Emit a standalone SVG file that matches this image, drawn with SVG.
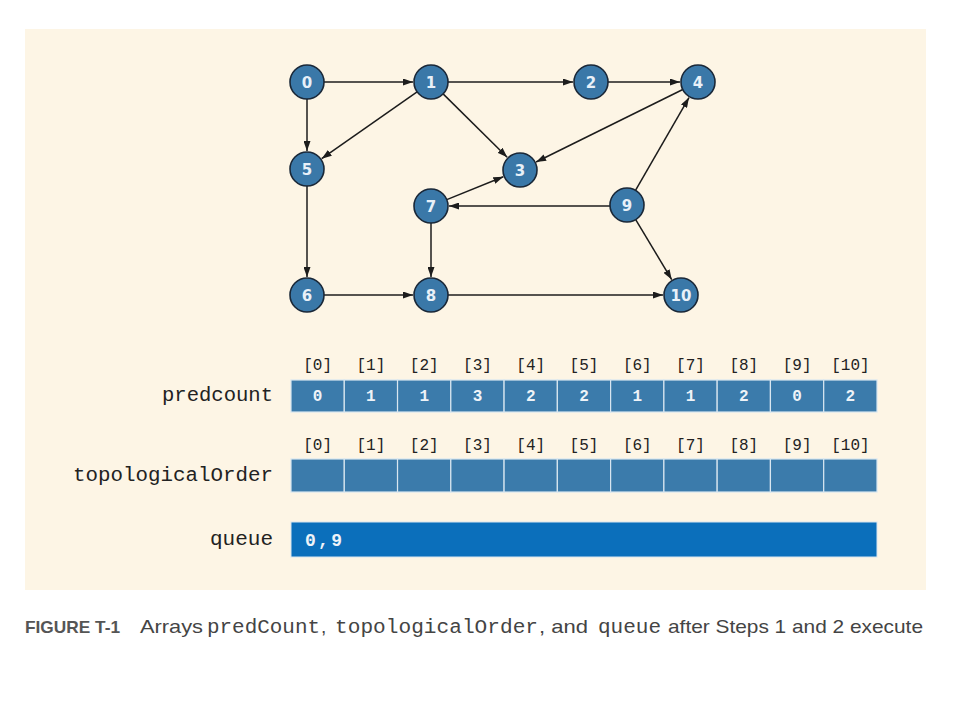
<svg xmlns="http://www.w3.org/2000/svg" width="960" height="720" viewBox="0 0 960 720">
<defs>
<style>
.node circle{fill:#3a78a8;stroke:#1a2838;stroke-width:1.6}
.node text{font-family:"DejaVu Sans",sans-serif;font-weight:bold;font-size:15px;fill:#e8f0f8;text-anchor:middle}
.edges line{stroke:#1c1c1c;stroke-width:1.5;marker-end:url(#ah)}
.cell{fill:#3b7bab;stroke:#d8e6f0;stroke-width:1.2}
.idx{font-family:"Liberation Mono",monospace;font-size:16px;fill:#222;text-anchor:middle}
.val{font-family:"Liberation Mono",monospace;font-weight:bold;font-size:16px;fill:#eef3f8;text-anchor:middle}
.lbl{font-family:"Liberation Mono",monospace;font-size:20px;fill:#222;text-anchor:end}
.cap{font-family:"Liberation Sans",sans-serif;font-size:19px;fill:#444}
.capm{font-family:"Liberation Mono",monospace;font-size:20px;fill:#444}
</style>
<marker id="ah" viewBox="0 0 10 7" refX="10" refY="3.5" markerWidth="10" markerHeight="7" markerUnits="userSpaceOnUse" orient="auto">
<path d="M0,0 L10,3.5 L0,7 z" fill="#1c1c1c"/>
</marker>
</defs>
<rect x="0" y="0" width="960" height="720" fill="#ffffff"/>
<rect x="25" y="29" width="901" height="561" fill="#fdf5e5"/>

<g class="edges" id="edges">
<line x1="324" y1="82" x2="413" y2="82"/>
<line x1="307" y1="99" x2="307" y2="151"/>
<line x1="448" y1="82" x2="573" y2="82"/>
<line x1="608" y1="82" x2="680" y2="82"/>
<line x1="443.1" y1="93.9" x2="507.2" y2="157.3"/>
<line x1="417.1" y1="91.8" x2="321.7" y2="158.7"/>
<line x1="682.8" y1="89.5" x2="536.1" y2="162"/>
<line x1="635.5" y1="190.3" x2="689" y2="97.6"/>
<line x1="446.8" y1="199.6" x2="503.3" y2="176.8"/>
<line x1="610" y1="206" x2="449" y2="206"/>
<line x1="635.7" y1="219.6" x2="671.7" y2="279.6"/>
<line x1="307" y1="186" x2="307" y2="277"/>
<line x1="431" y1="223" x2="431" y2="277"/>
<line x1="324" y1="295" x2="413" y2="295"/>
<line x1="448" y1="295" x2="663" y2="295"/>
</g>

<g class="node" id="n0"><circle cx="307" cy="82" r="17"/><text x="307" y="87.5">0</text></g>
<g class="node" id="n1"><circle cx="431" cy="82" r="17"/><text x="431" y="87.5">1</text></g>
<g class="node" id="n2"><circle cx="591" cy="82" r="17"/><text x="591" y="87.5">2</text></g>
<g class="node" id="n4"><circle cx="698" cy="82" r="17"/><text x="698" y="87.5">4</text></g>
<g class="node" id="n5"><circle cx="307" cy="169" r="17"/><text x="307" y="174.5">5</text></g>
<g class="node" id="n3"><circle cx="520" cy="170" r="17"/><text x="520" y="175.5">3</text></g>
<g class="node" id="n7"><circle cx="431" cy="206" r="17"/><text x="431" y="211.5">7</text></g>
<g class="node" id="n9"><circle cx="627" cy="205" r="17"/><text x="627" y="210.5">9</text></g>
<g class="node" id="n6"><circle cx="307" cy="295" r="17"/><text x="307" y="300.5">6</text></g>
<g class="node" id="n8"><circle cx="431" cy="295" r="17"/><text x="431" y="300.5">8</text></g>
<g class="node" id="n10"><circle cx="681" cy="295" r="17"/><text x="681" y="300.5">10</text></g>

<g id="predCount">
<text class="lbl" x="273" y="401" textLength="111" lengthAdjust="spacingAndGlyphs">predcount</text>
<g class="idx">
<text x="317.6" y="370">[0]</text><text x="370.9" y="370">[1]</text><text x="424.2" y="370">[2]</text><text x="477.5" y="370">[3]</text><text x="530.7" y="370">[4]</text><text x="584" y="370">[5]</text><text x="637.3" y="370">[6]</text><text x="690.5" y="370">[7]</text><text x="743.8" y="370">[8]</text><text x="797.1" y="370">[9]</text><text x="850.4" y="370">[10]</text>
</g>
<rect class="cell" x="291" y="380" width="53.27" height="32"/><rect class="cell" x="344.27" y="380" width="53.27" height="32"/><rect class="cell" x="397.54" y="380" width="53.27" height="32"/><rect class="cell" x="450.81" y="380" width="53.27" height="32"/><rect class="cell" x="504.08" y="380" width="53.27" height="32"/><rect class="cell" x="557.35" y="380" width="53.27" height="32"/><rect class="cell" x="610.62" y="380" width="53.27" height="32"/><rect class="cell" x="663.89" y="380" width="53.27" height="32"/><rect class="cell" x="717.16" y="380" width="53.27" height="32"/><rect class="cell" x="770.43" y="380" width="53.27" height="32"/><rect class="cell" x="823.7" y="380" width="53.3" height="32"/>
<g class="val">
<text x="317.6" y="401">0</text><text x="370.9" y="401">1</text><text x="424.2" y="401">1</text><text x="477.5" y="401">3</text><text x="530.7" y="401">2</text><text x="584" y="401">2</text><text x="637.3" y="401">1</text><text x="690.5" y="401">1</text><text x="743.8" y="401">2</text><text x="797.1" y="401">0</text><text x="850.4" y="401">2</text>
</g>
</g>

<g id="topologicalOrder">
<text class="lbl" x="273" y="481" textLength="200" lengthAdjust="spacingAndGlyphs">topologicalOrder</text>
<g class="idx">
<text x="317.6" y="450">[0]</text><text x="370.9" y="450">[1]</text><text x="424.2" y="450">[2]</text><text x="477.5" y="450">[3]</text><text x="530.7" y="450">[4]</text><text x="584" y="450">[5]</text><text x="637.3" y="450">[6]</text><text x="690.5" y="450">[7]</text><text x="743.8" y="450">[8]</text><text x="797.1" y="450">[9]</text><text x="850.4" y="450">[10]</text>
</g>
<rect class="cell" x="291" y="459" width="53.27" height="33"/><rect class="cell" x="344.27" y="459" width="53.27" height="33"/><rect class="cell" x="397.54" y="459" width="53.27" height="33"/><rect class="cell" x="450.81" y="459" width="53.27" height="33"/><rect class="cell" x="504.08" y="459" width="53.27" height="33"/><rect class="cell" x="557.35" y="459" width="53.27" height="33"/><rect class="cell" x="610.62" y="459" width="53.27" height="33"/><rect class="cell" x="663.89" y="459" width="53.27" height="33"/><rect class="cell" x="717.16" y="459" width="53.27" height="33"/><rect class="cell" x="770.43" y="459" width="53.27" height="33"/><rect class="cell" x="823.7" y="459" width="53.3" height="33"/>
</g>

<g id="queue">
<text class="lbl" x="273" y="545" textLength="63" lengthAdjust="spacingAndGlyphs">queue</text>
<rect x="291" y="522" width="586" height="35" fill="#0b6fbb" stroke="#d8e6f0" stroke-width="1"/>
<text x="305" y="546" font-family="Liberation Mono, monospace" font-weight="bold" font-size="18" fill="#eef3f8" textLength="37" lengthAdjust="spacing">0,9</text>
</g>

<g id="caption">
<text x="25" y="633" font-family="Liberation Sans, sans-serif" font-weight="bold" font-size="17" fill="#555" textLength="95" lengthAdjust="spacingAndGlyphs">FIGURE T-1</text>
<text class="cap" x="140" y="633" textLength="63" lengthAdjust="spacingAndGlyphs">Arrays</text>
<text class="capm" x="207" y="633" textLength="113" lengthAdjust="spacingAndGlyphs">predCount</text>
<text class="cap" x="321" y="633">,</text>
<text class="capm" x="335" y="633" textLength="203" lengthAdjust="spacingAndGlyphs">topologicalOrder</text>
<text class="cap" x="539" y="633" textLength="49" lengthAdjust="spacingAndGlyphs">, and</text>
<text class="capm" x="598" y="633" textLength="63" lengthAdjust="spacingAndGlyphs">queue</text>
<text class="cap" x="668" y="633" textLength="255" lengthAdjust="spacingAndGlyphs">after Steps 1 and 2 execute</text>
</g>
</svg>
